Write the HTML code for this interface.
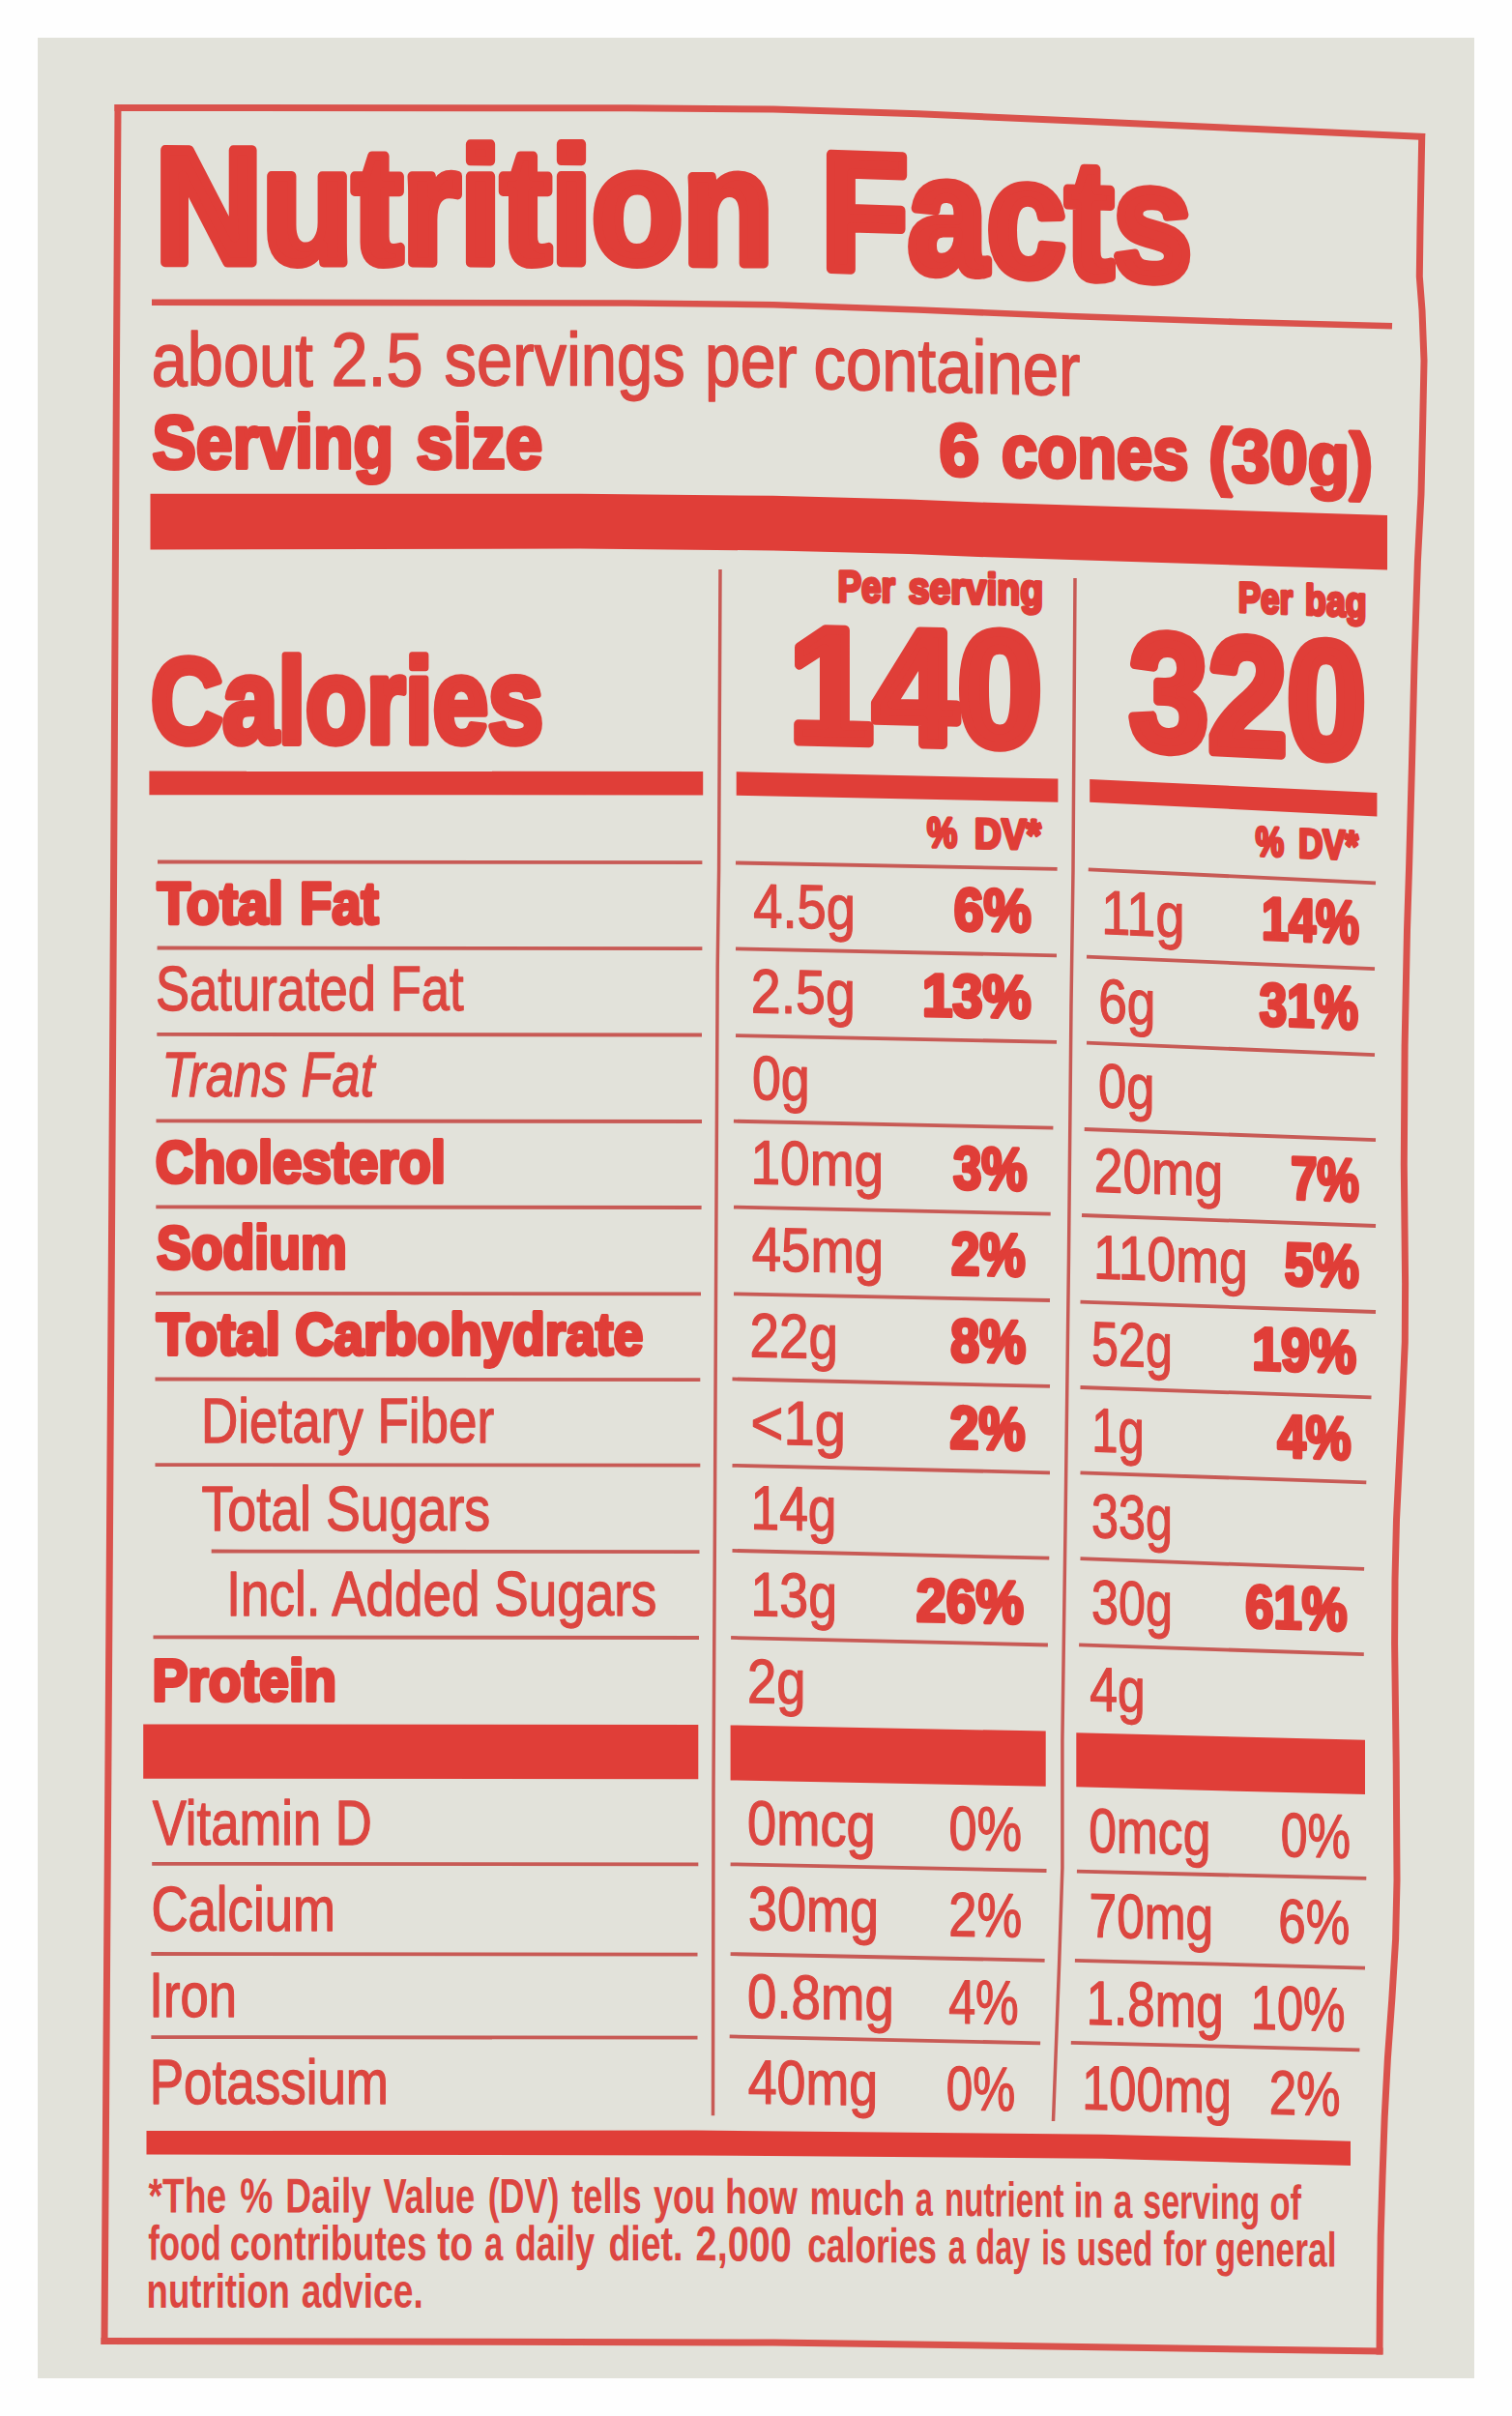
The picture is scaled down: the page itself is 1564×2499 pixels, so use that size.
<!DOCTYPE html>
<html><head><meta charset="utf-8"><title>Nutrition Facts</title>
<style>
html,body{margin:0;padding:0;background:#fefefe;}
body{width:1564px;height:2499px;overflow:hidden;}
svg{display:block;}
.ln polyline{fill:none;stroke-linejoin:round;stroke-linecap:butt;}
.ln .bd{stroke:#da524c;}
.ln .th{stroke:#c85a55;}
.bar polygon{fill:#e03e38;}
text{font-family:"Liberation Sans",Arial,sans-serif;fill:#e03e38;stroke:#e03e38;stroke-linejoin:round;}
text.b{font-weight:bold;}
text.md{font-weight:bold;fill:#dc4640;stroke:#dc4640;}
text.r{font-weight:normal;fill:#dc4640;stroke:#dc4640;}
text.i{font-weight:normal;font-style:italic;fill:#dc4640;stroke:#dc4640;}
</style></head><body>
<svg width="1564" height="2499" viewBox="0 0 1564 2499">
<rect x="0" y="0" width="1564" height="2499" fill="#fefefe"/>
<rect x="39" y="39" width="1486" height="2421" fill="#e2e2da"/>
<g class="ln">
<polyline class="bd" points="118.5,111.5 650,111.7 800,113 950,117.8 1124,125.5 1300,133.5 1474,141.5" stroke-width="7"/>
<polyline class="bd" points="1470.8,138 1469,234 1468.3,286 1471,321 1473,373 1471.6,442 1470,511 1466.4,581 1463,685 1460.5,789 1457.7,893 1455.5,962 1453.1,1082 1452.3,1205 1453.6,1327 1453.3,1388 1450.6,1450 1447.5,1511 1444.5,1572 1443,1633 1442.6,1700 1444.2,1823 1445,1945 1443.6,2006 1439.8,2068 1435.4,2129 1432.2,2190 1430,2252 1428.2,2313 1427.4,2374 1427,2435.4" stroke-width="7"/>
<polyline class="bd" points="104.5,2421.5 800,2423 1430.5,2432" stroke-width="7"/>
<polyline class="bd" points="122,108 115.7,1250 108,2425" stroke-width="7"/>
<polyline class="bd" points="157,312.7 650,313.5 800,315.2 950,320.5 1106,327 1280,333 1440,337.3" stroke-width="6.6"/>
<polyline class="th" points="745,589 743.6,900 742.2,1000 740.7,1300 739.4,1580 738,1850 737.5,2188.3" stroke-width="3.5"/>
<polyline class="th" points="1112,598 1110,900 1108,1040 1105.5,1300 1102,1580 1098.9,1800 1098.9,1932 1095.6,2032 1093.1,2098 1089.5,2194" stroke-width="3.5"/>
<polyline class="th" points="163,891.5 726.4,892.1" stroke-width="3.8"/>
<polyline class="th" points="162.6,980.5 726.4,981.1" stroke-width="3.8"/>
<polyline class="th" points="162.3,1069.9 726,1070.5" stroke-width="3.8"/>
<polyline class="th" points="161.5,1159.4 726,1160" stroke-width="3.8"/>
<polyline class="th" points="161.3,1248.4 725.6,1249" stroke-width="3.8"/>
<polyline class="th" points="161,1337.8 725,1338.4" stroke-width="3.8"/>
<polyline class="th" points="160.5,1426.5 724.3,1427.1" stroke-width="3.8"/>
<polyline class="th" points="160.5,1515.1 724.3,1515.7" stroke-width="3.8"/>
<polyline class="th" points="218.7,1604.5 723.5,1605.1" stroke-width="3.8"/>
<polyline class="th" points="158.5,1693.4 723,1694" stroke-width="3.8"/>
<polyline class="th" points="157.2,1927.8 722.3,1928.4" stroke-width="3.8"/>
<polyline class="th" points="156.4,2021 721.5,2021.6" stroke-width="3.8"/>
<polyline class="th" points="156.4,2107.1 721.5,2107.7" stroke-width="3.8"/>
<polyline class="th" points="761,892.5 1093.6,898.9" stroke-width="3.8"/>
<polyline class="th" points="761,981.4 1093,988.3" stroke-width="3.8"/>
<polyline class="th" points="761,1071.1 1093,1077.8" stroke-width="3.8"/>
<polyline class="th" points="758.9,1159.7 1089.4,1166.7" stroke-width="3.8"/>
<polyline class="th" points="759,1248.6 1086.7,1255.6" stroke-width="3.8"/>
<polyline class="th" points="759,1338.3 1086,1345" stroke-width="3.8"/>
<polyline class="th" points="757.5,1426.4 1086,1433.9" stroke-width="3.8"/>
<polyline class="th" points="757.5,1515.8 1086,1523.3" stroke-width="3.8"/>
<polyline class="th" points="757.5,1603.9 1085.3,1611.7" stroke-width="3.8"/>
<polyline class="th" points="756.1,1693.9 1083.9,1701.5" stroke-width="3.8"/>
<polyline class="th" points="755.6,1928.3 1082.5,1935" stroke-width="3.8"/>
<polyline class="th" points="755.6,2021.1 1080.6,2027.8" stroke-width="3.8"/>
<polyline class="th" points="754.7,2106.4 1076.1,2113.3" stroke-width="3.8"/>
<polyline class="th" points="1125.8,899.4 1423,913.3" stroke-width="3.8"/>
<polyline class="th" points="1124,989.7 1422,1002.2" stroke-width="3.8"/>
<polyline class="th" points="1124,1078.6 1422,1091.1" stroke-width="3.8"/>
<polyline class="th" points="1121.7,1168 1423,1179.2" stroke-width="3.8"/>
<polyline class="th" points="1119,1257 1423,1268" stroke-width="3.8"/>
<polyline class="th" points="1117.5,1346.7 1423,1357" stroke-width="3.8"/>
<polyline class="th" points="1117.5,1435 1418.5,1445.3" stroke-width="3.8"/>
<polyline class="th" points="1117.5,1523.3 1413.3,1533.3" stroke-width="3.8"/>
<polyline class="th" points="1117.5,1612.2 1411.1,1622.8" stroke-width="3.8"/>
<polyline class="th" points="1116.1,1701.4 1410.8,1711.2" stroke-width="3.8"/>
<polyline class="th" points="1113.9,1935.7 1413.3,1942.9" stroke-width="3.8"/>
<polyline class="th" points="1111.9,2027.8 1412,2035.6" stroke-width="3.8"/>
<polyline class="th" points="1107.8,2112.8 1406.4,2120.3" stroke-width="3.8"/>
</g>
<g class="bar">
<polygon points="155.5,510.7 600,510.7 800,512.8 940,516.5 1022,519.8 1435,533 1435,589.4 1022,576.3 940,573 800,569.5 600,567.5 155.5,568.5"/>
<polygon points="154.4,797.6 727.2,798 727.2,822.4 154.4,822.2"/>
<polygon points="761.7,798.3 1094.4,805.6 1094.4,829.7 761.7,822.8"/>
<polygon points="1127.2,806.1 1424.4,820 1424.4,844.4 1127.2,829.7"/>
<polygon points="148.2,1783.5 722.3,1784 722.3,1840.2 148.2,1839.7"/>
<polygon points="755.6,1784.4 1081.7,1790.6 1081.7,1847.8 755.6,1841.4"/>
<polygon points="1113.3,1792.2 1412,1799.7 1412,1856.1 1113.3,1848.3"/>
<polygon points="151.5,2204 720,2203.6 1140,2207.8 1397,2214.7 1397,2240 1140,2232.8 720,2229.4 151.5,2228.5"/>
</g>
<text class="b" font-size="168.82" stroke-width="10.13" transform="translate(165 271) skewY(0.09) translate(-4.6 0) scale(0.9092 1)" dy="0.35 -0.17 -0.12 -0.09 -0.08 -0.08 -0.08 -0.11 0.73">Nutrition</text>
<text class="b" font-size="171.33" stroke-width="10.28" transform="translate(854 277.7) skewY(1.9) translate(-4.4 0) scale(0.8564 1)">Facts</text>
<text class="b" font-size="78.33" stroke-width="4.17" transform="translate(157 483.92) skewY(0) translate(0.45 0) scale(0.8690 1)">Serving</text>
<text class="b" font-size="78.33" stroke-width="4.17" transform="translate(430.6 483.92) skewY(0) translate(-0.24 0) scale(0.8835 1)">size</text>
<text class="b" font-size="76.25" stroke-width="4.12" transform="translate(971.6 491.6) skewY(0.53) translate(-0.22 0) scale(0.9786 1)">6</text>
<text class="b" font-size="76.25" stroke-width="4.12" transform="translate(1036.3 492.51) skewY(0.94) translate(-0.2 0) scale(0.8776 1)">cones</text>
<text class="b" font-size="76.25" stroke-width="4.12" transform="translate(1251.2 496.72) skewY(1.95) translate(-0.92 0) scale(0.9307 1)">(30g)</text>
<text class="b" font-size="44.93" stroke-width="3.5" transform="translate(867.2 621.75) skewY(1.09) translate(-0.78 0) scale(0.8211 1)">Per</text>
<text class="b" font-size="44.93" stroke-width="3.5" transform="translate(939.4 623.12) skewY(1.09) translate(0.35 0) scale(0.8723 1)">serving</text>
<text class="b" font-size="43.94" stroke-width="3.48" transform="translate(1281.4 632.68) skewY(2.43) translate(-0.72 0) scale(0.7981 1)">Per</text>
<text class="b" font-size="43.94" stroke-width="3.48" transform="translate(1350.8 635.62) skewY(2.43) translate(-0.73 0) scale(0.8127 1)">bag</text>
<text class="b" font-size="168.27" stroke-width="10.1" transform="translate(820.6 766.34) skewY(1.26) translate(-4.71 0) scale(0.9335 1)">140</text>
<text class="b" font-size="170.13" stroke-width="10.21" transform="translate(1166.7 773.16) skewY(2.68) translate(1.47 0) scale(0.8622 1)">320</text>
<text class="b" font-size="124.08" stroke-width="7.44" transform="translate(157 767.98) skewY(0) translate(-1.03 0) scale(0.8295 1)">Calories</text>
<text class="b" font-size="43.61" stroke-width="3.47" transform="translate(958.3 876.03) skewY(0.63) translate(0.69 0) scale(0.8016 1)">%</text>
<text class="b" font-size="43.61" stroke-width="3.47" transform="translate(1008.9 876.92) skewY(1.19) translate(-0.78 0) scale(0.8847 1)">DV*</text>
<text class="b" font-size="42.5" stroke-width="3.45" transform="translate(1298 885.09) skewY(1.19) translate(0.68 0) scale(0.7732 1)">%</text>
<text class="b" font-size="42.5" stroke-width="3.45" transform="translate(1343.9 886.69) skewY(2.39) translate(-0.67 0) scale(0.8168 1)">DV*</text>
<text class="b" font-size="61.11" stroke-width="3.82" transform="translate(161.2 955.19) skewY(0.05) translate(1.2 0) scale(0.9238 1)">Total</text>
<text class="b" font-size="61.11" stroke-width="3.82" transform="translate(311.6 955.32) skewY(0.05) translate(-1.57 0) scale(0.8915 1)">Fat</text>
<text class="r" font-size="64.27" stroke-width="1.29" transform="translate(162.6 1045.36) skewY(0) translate(-1.58 0) scale(0.8183 1)">Saturated Fat</text>
<text class="i" font-size="64.27" stroke-width="1.29" transform="translate(170.8 1134.36) skewY(0) translate(-3.66 0) scale(0.8147 1)">Trans Fat</text>
<text class="b" font-size="62.01" stroke-width="3.84" transform="translate(161.3 1222.68) skewY(0) translate(-0.49 0) scale(0.8801 1)">Cholesterol</text>
<text class="b" font-size="62.01" stroke-width="3.84" transform="translate(161.3 1312.08) skewY(0) translate(0.59 0) scale(0.8662 1)">Sodium</text>
<text class="b" font-size="62.01" stroke-width="3.84" transform="translate(160.5 1401.08) skewY(0) translate(1.16 0) scale(0.8934 1)">Total Carbohydrate</text>
<text class="r" font-size="64.27" stroke-width="1.29" transform="translate(211.8 1492.36) skewY(0) translate(-3.71 0) scale(0.8239 1)">Dietary Fiber</text>
<text class="r" font-size="64.27" stroke-width="1.29" transform="translate(209 1582.56) skewY(0) translate(-0.54 0) scale(0.8365 1)">Total Sugars</text>
<text class="r" font-size="64.27" stroke-width="1.29" transform="translate(238.4 1670.76) skewY(0) translate(-4.24 0) scale(0.8254 1)">Incl. Added Sugars</text>
<text class="b" font-size="62.01" stroke-width="3.84" transform="translate(159 1759.08) skewY(0) translate(-1.61 0) scale(0.8931 1)">Protein</text>
<text class="r" font-size="64.27" stroke-width="1.29" transform="translate(157.2 1907.66) skewY(0) translate(0.53 0) scale(0.8189 1)">Vitamin D</text>
<text class="r" font-size="64.27" stroke-width="1.29" transform="translate(158.5 1996.96) skewY(0) translate(-2.11 0) scale(0.8212 1)">Calcium</text>
<text class="r" font-size="64.27" stroke-width="1.29" transform="translate(158.5 2086.36) skewY(0) translate(-4.21 0) scale(0.8185 1)">Iron</text>
<text class="r" font-size="64.27" stroke-width="1.29" transform="translate(158.5 2176.36) skewY(0) translate(-3.71 0) scale(0.8240 1)">Potassium</text>
<text class="r" font-size="64.27" stroke-width="1.29" transform="translate(779.7 958.93) skewY(1.15) translate(-0.54 0) scale(0.8463 1)">4.5g</text>
<text class="r" font-size="64.27" stroke-width="1.29" transform="translate(779 1047.2) skewY(1.17) translate(-2.22 0) scale(0.8641 1)">2.5g</text>
<text class="r" font-size="64.27" stroke-width="1.29" transform="translate(779 1137.08) skewY(1.18) translate(-1.08 0) scale(0.8374 1)">0g</text>
<text class="r" font-size="64.27" stroke-width="1.29" transform="translate(779.7 1224.35) skewY(1.22) translate(-3.31 0) scale(0.8575 1)">10mg</text>
<text class="r" font-size="64.27" stroke-width="1.29" transform="translate(778.3 1314.06) skewY(1.2) translate(-0.55 0) scale(0.8489 1)">45mg</text>
<text class="r" font-size="64.27" stroke-width="1.29" transform="translate(777.8 1403.42) skewY(1.24) translate(-2.19 0) scale(0.8516 1)">22g</text>
<text class="r" font-size="64.27" stroke-width="1.29" transform="translate(778.3 1493.29) skewY(1.31) translate(-1.74 0) scale(0.9019 1)">&lt;1g</text>
<text class="r" font-size="64.27" stroke-width="1.29" transform="translate(779.7 1581.69) skewY(1.34) translate(-3.2 0) scale(0.8297 1)">14g</text>
<text class="r" font-size="64.27" stroke-width="1.29" transform="translate(779.7 1671.17) skewY(1.35) translate(-3.22 0) scale(0.8346 1)">13g</text>
<text class="r" font-size="64.27" stroke-width="1.29" transform="translate(775.3 1761.17) skewY(1.21) translate(-2.18 0) scale(0.8461 1)">2g</text>
<text class="r" font-size="64.27" stroke-width="1.29" transform="translate(774.2 1907.48) skewY(1.13) translate(-1.09 0) scale(0.8444 1)">0mcg</text>
<text class="r" font-size="64.27" stroke-width="1.29" transform="translate(775 1996) skewY(1.18) translate(-1.08 0) scale(0.8415 1)">30mg</text>
<text class="r" font-size="64.27" stroke-width="1.29" transform="translate(774.2 2086.7) skewY(1.21) translate(-1.09 0) scale(0.8488 1)">0.8mg</text>
<text class="r" font-size="64.27" stroke-width="1.29" transform="translate(774.2 2175.52) skewY(0.9) translate(-0.54 0) scale(0.8361 1)">40mg</text>
<text class="b" font-size="62.01" stroke-width="3.84" transform="translate(986.7 961.97) skewY(1.15) translate(0.05 0) scale(0.8904 1)">6%</text>
<text class="b" font-size="62.01" stroke-width="3.84" transform="translate(955.6 1050.54) skewY(1.17) translate(-1.63 0) scale(0.9071 1)">13%</text>
<text class="b" font-size="62.01" stroke-width="3.84" transform="translate(985.3 1229.25) skewY(1.22) translate(0.58 0) scale(0.8536 1)">3%</text>
<text class="b" font-size="62.01" stroke-width="3.84" transform="translate(983.9 1318.07) skewY(1.2) translate(0.05 0) scale(0.8539 1)">2%</text>
<text class="b" font-size="62.01" stroke-width="3.84" transform="translate(983.3 1407.83) skewY(1.24) translate(0.05 0) scale(0.8672 1)">8%</text>
<text class="b" font-size="62.01" stroke-width="3.84" transform="translate(982.5 1497.78) skewY(1.31) translate(0.05 0) scale(0.8694 1)">2%</text>
<text class="b" font-size="62.01" stroke-width="3.84" transform="translate(947.8 1676.47) skewY(1.35) translate(0.05 0) scale(0.8936 1)">26%</text>
<text class="r" font-size="64.27" stroke-width="1.29" transform="translate(982.5 1913.03) skewY(1.13) translate(-1.05 0) scale(0.8145 1)">0%</text>
<text class="r" font-size="64.27" stroke-width="1.29" transform="translate(983.3 2002.21) skewY(1.18) translate(-2.1 0) scale(0.8172 1)">2%</text>
<text class="r" font-size="64.27" stroke-width="1.29" transform="translate(981.7 2092.51) skewY(1.21) translate(-0.5 0) scale(0.7812 1)">4%</text>
<text class="r" font-size="64.27" stroke-width="1.29" transform="translate(979.7 2182.11) skewY(0.9) translate(-0.99 0) scale(0.7691 1)">0%</text>
<text class="r" font-size="64.27" stroke-width="1.29" transform="translate(1142.5 965.87) skewY(2.54) translate(-3.25 0) scale(0.8418 1)">11g</text>
<text class="r" font-size="64.27" stroke-width="1.29" transform="translate(1138.3 1057.41) skewY(2.4) translate(-2.13 0) scale(0.8295 1)">6g</text>
<text class="r" font-size="64.27" stroke-width="1.29" transform="translate(1137 1144.97) skewY(2.27) translate(-1.05 0) scale(0.8181 1)">0g</text>
<text class="r" font-size="64.27" stroke-width="1.29" transform="translate(1133.8 1232.49) skewY(2.1) translate(-2.14 0) scale(0.8317 1)">20mg</text>
<text class="r" font-size="64.27" stroke-width="1.29" transform="translate(1134.2 1322.26) skewY(2) translate(-3.21 0) scale(0.8334 1)">110mg</text>
<text class="r" font-size="64.27" stroke-width="1.29" transform="translate(1130.6 1411.9) skewY(1.95) translate(-1.51 0) scale(0.7818 1)">52g</text>
<text class="r" font-size="64.27" stroke-width="1.29" transform="translate(1132.2 1501.32) skewY(1.95) translate(-2.93 0) scale(0.7609 1)">1g</text>
<text class="r" font-size="64.27" stroke-width="1.29" transform="translate(1130 1590.15) skewY(2) translate(-1.01 0) scale(0.7827 1)">33g</text>
<text class="r" font-size="64.27" stroke-width="1.29" transform="translate(1130 1679.06) skewY(1.99) translate(-1.01 0) scale(0.7827 1)">30g</text>
<text class="r" font-size="64.27" stroke-width="1.29" transform="translate(1127.8 1769.16) skewY(1.67) translate(-0.52 0) scale(0.8015 1)">4g</text>
<text class="r" font-size="64.27" stroke-width="1.29" transform="translate(1127.2 1915.65) skewY(1.41) translate(-1.03 0) scale(0.8031 1)">0mcg</text>
<text class="r" font-size="64.27" stroke-width="1.29" transform="translate(1128.6 2003.4) skewY(1.43) translate(-2.06 0) scale(0.8001 1)">70mg</text>
<text class="r" font-size="64.27" stroke-width="1.29" transform="translate(1126.7 2093.71) skewY(1.46) translate(-3.07 0) scale(0.7952 1)">1.8mg</text>
<text class="r" font-size="64.27" stroke-width="1.29" transform="translate(1122.2 2181.62) skewY(1.49) translate(-3.04 0) scale(0.7882 1)">100mg</text>
<text class="b" font-size="62.01" stroke-width="3.84" transform="translate(1306.4 971.36) skewY(2.54) translate(-1.46 0) scale(0.8128 1)">14%</text>
<text class="b" font-size="62.01" stroke-width="3.84" transform="translate(1302.2 1059.91) skewY(2.4) translate(0.56 0) scale(0.8238 1)">31%</text>
<text class="b" font-size="62.01" stroke-width="3.84" transform="translate(1335.6 1239.78) skewY(2.1) translate(-0.44 0) scale(0.7885 1)">7%</text>
<text class="b" font-size="62.01" stroke-width="3.84" transform="translate(1328.6 1328.72) skewY(2) translate(0.05 0) scale(0.8605 1)">5%</text>
<text class="b" font-size="62.01" stroke-width="3.84" transform="translate(1296.7 1416.26) skewY(1.95) translate(-1.56 0) scale(0.8689 1)">19%</text>
<text class="b" font-size="62.01" stroke-width="3.84" transform="translate(1320.3 1506.76) skewY(1.95) translate(1.1 0) scale(0.8478 1)">4%</text>
<text class="b" font-size="62.01" stroke-width="3.84" transform="translate(1288.3 1682.75) skewY(1.99) translate(0.05 0) scale(0.8455 1)">61%</text>
<text class="r" font-size="64.27" stroke-width="1.29" transform="translate(1325.8 1919.99) skewY(1.41) translate(-1 0) scale(0.7779 1)">0%</text>
<text class="r" font-size="64.27" stroke-width="1.29" transform="translate(1324.4 2008.97) skewY(1.43) translate(-2.05 0) scale(0.7959 1)">6%</text>
<text class="r" font-size="64.27" stroke-width="1.29" transform="translate(1296.7 2098.66) skewY(1.46) translate(-2.93 0) scale(0.7601 1)">10%</text>
<text class="r" font-size="64.27" stroke-width="1.29" transform="translate(1314.7 2186.44) skewY(1.49) translate(-2.05 0) scale(0.7959 1)">2%</text>
<text class="r" font-size="77.73" stroke-width="1.55" transform="translate(158.7 398.62) skewY(-0.01) translate(-2 0) scale(0.8590 1)">about</text>
<text class="r" font-size="77.73" stroke-width="1.55" transform="translate(345.3 398.58) skewY(-0.01) translate(-2.74 0) scale(0.8803 1)">2.5</text>
<text class="r" font-size="77.73" stroke-width="1.55" transform="translate(460.1 398.48) skewY(0.04) translate(-0.67 0) scale(0.8617 1)">servings</text>
<text class="r" font-size="77.73" stroke-width="1.55" transform="translate(732.2 398.78) skewY(1.13) translate(-3.31 0) scale(0.8519 1)">per</text>
<text class="r" font-size="77.73" stroke-width="1.55" transform="translate(843.4 401.8) skewY(1.57) translate(-2.01 0) scale(0.8631 1)">container</text>
<text class="md" font-size="50.57" stroke-width="0" transform="translate(153.5 2288.4) skewY(0.06) translate(0 0) scale(0.7371 1)">*The</text>
<text class="md" font-size="50.57" stroke-width="0" transform="translate(249.1 2288.5) skewY(0.06) translate(-0.77 0) scale(0.7584 1)">%</text>
<text class="md" font-size="50.57" stroke-width="0" transform="translate(297.4 2288.55) skewY(0.06) translate(-2.23 0) scale(0.7337 1)">Daily</text>
<text class="md" font-size="50.57" stroke-width="0" transform="translate(396.4 2288.66) skewY(0.06) translate(0 0) scale(0.7186 1)">Value</text>
<text class="md" font-size="50.57" stroke-width="0" transform="translate(506.1 2288.77) skewY(0.06) translate(-1.44 0) scale(0.7099 1)">(DV)</text>
<text class="md" font-size="50.57" stroke-width="0" transform="translate(591.5 2288.86) skewY(0.06) translate(-0.36 0) scale(0.7172 1)">tells</text>
<text class="md" font-size="50.57" stroke-width="0" transform="translate(675.9 2288.92) skewY(0.18) translate(0 0) scale(0.7117 1)">you</text>
<text class="md" font-size="50.57" stroke-width="0" transform="translate(752.3 2289.36) skewY(0.64) translate(-2.25 0) scale(0.7404 1)">how</text>
<text class="md" font-size="50.57" stroke-width="0" transform="translate(839.6 2290.33) skewY(0.64) translate(-2.22 0) scale(0.7331 1)">much</text>
<text class="md" font-size="50.57" stroke-width="0" transform="translate(947.5 2291.53) skewY(0.64) translate(-0.65 0) scale(0.6471 1)">a</text>
<text class="md" font-size="50.57" stroke-width="0" transform="translate(979 2291.88) skewY(0.64) translate(-1.99 0) scale(0.6561 1)">nutrient</text>
<text class="md" font-size="50.57" stroke-width="0" transform="translate(1112.7 2293.36) skewY(0.64) translate(-2.07 0) scale(0.6825 1)">in</text>
<text class="md" font-size="50.57" stroke-width="0" transform="translate(1152.5 2293.81) skewY(0.65) translate(-0.71 0) scale(0.7011 1)">a</text>
<text class="md" font-size="50.57" stroke-width="0" transform="translate(1183.3 2294.16) skewY(0.65) translate(-1.02 0) scale(0.6726 1)">serving</text>
<text class="md" font-size="50.57" stroke-width="0" transform="translate(1314.5 2295.64) skewY(0.65) translate(-1.04 0) scale(0.6829 1)">of</text>
<text class="md" font-size="50.57" stroke-width="0" transform="translate(153.5 2337.4) skewY(0.06) translate(-0.35 0) scale(0.6901 1)">food</text>
<text class="md" font-size="50.57" stroke-width="0" transform="translate(238.9 2337.49) skewY(0.06) translate(-1.12 0) scale(0.7401 1)">contributes</text>
<text class="md" font-size="50.57" stroke-width="0" transform="translate(452.6 2337.72) skewY(0.06) translate(-0.39 0) scale(0.7774 1)">to</text>
<text class="md" font-size="50.57" stroke-width="0" transform="translate(501.6 2337.77) skewY(0.06) translate(-0.69 0) scale(0.6867 1)">a</text>
<text class="md" font-size="50.57" stroke-width="0" transform="translate(534.2 2337.8) skewY(0.06) translate(-1.44 0) scale(0.7142 1)">daily</text>
<text class="md" font-size="50.57" stroke-width="0" transform="translate(630.9 2337.91) skewY(0.06) translate(-1.5 0) scale(0.7421 1)">diet.</text>
<text class="md" font-size="50.57" stroke-width="0" transform="translate(720.8 2338.01) skewY(0.67) translate(-1.19 0) scale(0.7833 1)">2,000</text>
<text class="md" font-size="50.57" stroke-width="0" transform="translate(836.2 2339.35) skewY(0.67) translate(-1.06 0) scale(0.7006 1)">calories</text>
<text class="md" font-size="50.57" stroke-width="0" transform="translate(981.3 2341.04) skewY(0.67) translate(-0.65 0) scale(0.6436 1)">a</text>
<text class="md" font-size="50.57" stroke-width="0" transform="translate(1010.5 2341.38) skewY(0.67) translate(-1.31 0) scale(0.6459 1)">day</text>
<text class="md" font-size="50.57" stroke-width="0" transform="translate(1079.1 2342.18) skewY(0.67) translate(-1.87 0) scale(0.6155 1)">is</text>
<text class="md" font-size="50.57" stroke-width="0" transform="translate(1115.6 2342.65) skewY(0.5) translate(-2.03 0) scale(0.6692 1)">used</text>
<text class="md" font-size="50.57" stroke-width="0" transform="translate(1203.8 2343.35) skewY(0.37) translate(-0.34 0) scale(0.6637 1)">for</text>
<text class="md" font-size="50.57" stroke-width="0" transform="translate(1258.1 2343.7) skewY(0.37) translate(-1.41 0) scale(0.6994 1)">general</text>
<text class="md" font-size="50.57" stroke-width="0" transform="translate(153.8 2386.6) skewY(0) translate(-2.2 0) scale(0.7234 1)">nutrition</text>
<text class="md" font-size="50.57" stroke-width="0" transform="translate(312.5 2386.6) skewY(0) translate(-0.74 0) scale(0.7345 1)">advice.</text>
</svg>
</body></html>
